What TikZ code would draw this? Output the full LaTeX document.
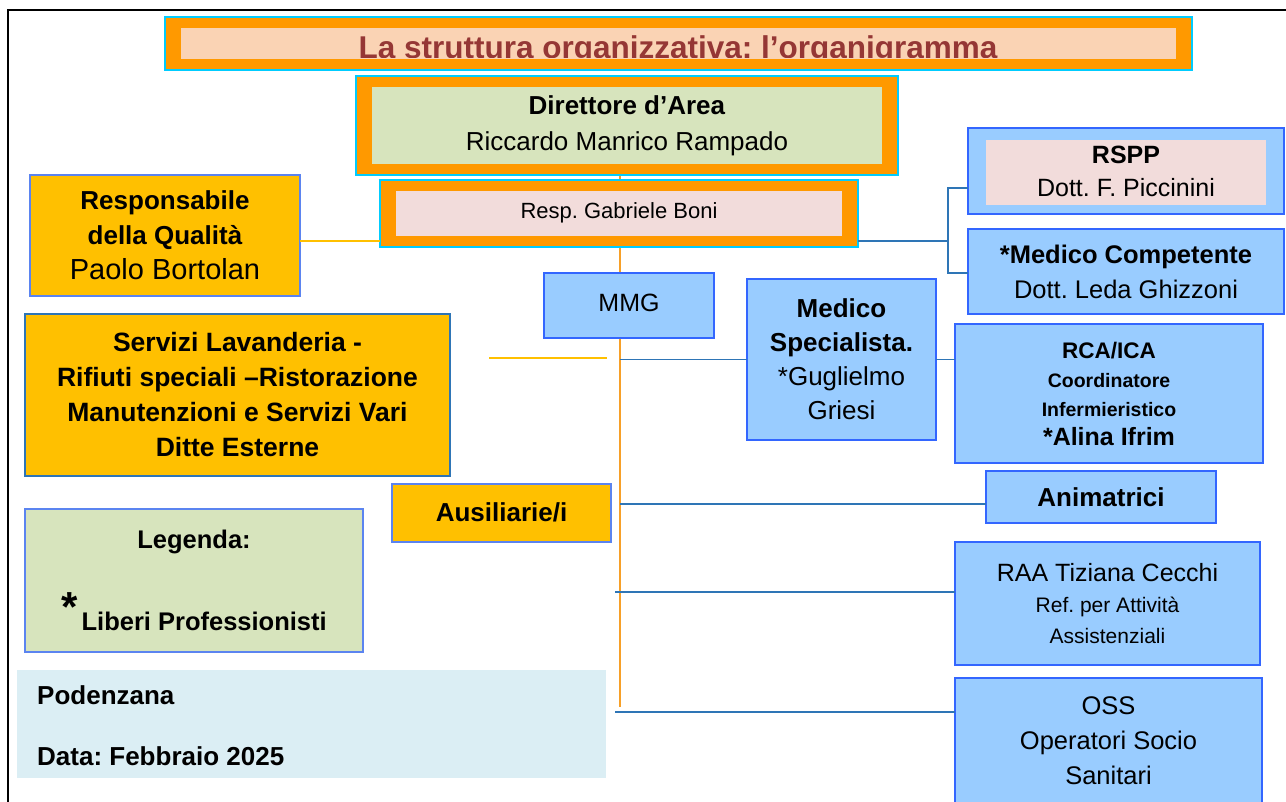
\documentclass[tikz,border=0pt]{standalone}
\usepackage{fontspec}
\setmainfont{Liberation Sans}
\usetikzlibrary{positioning, backgrounds}
\frenchspacing

\definecolor{cyanedge}{HTML}{00CCFF}
\definecolor{orangeband}{HTML}{FF9900}
\definecolor{peach}{HTML}{FAD3B4}
\definecolor{titlered}{HTML}{953735}
\definecolor{sage}{HTML}{D7E4BD}
\definecolor{blush}{HTML}{F2DCDB}
\definecolor{gold}{HTML}{FFC000}
\definecolor{skyfill}{HTML}{99CCFF}
\definecolor{boxblue}{HTML}{3366FF}
\definecolor{softblue}{HTML}{5B84F0}
\definecolor{deepblue}{HTML}{2E75B6}
\definecolor{linkblue}{HTML}{2E75B6}
\definecolor{trunkorange}{HTML}{F7A028}
\definecolor{paleblue}{HTML}{DBEEF4}

\tikzset{
    box/.style={rectangle, inner sep=0pt, outer sep=0pt, align=center,
        font=\fontsize{26}{35}\selectfont},
    framed/.style={box, draw=cyanedge, line width=2.5pt, fill=orangeband,
        path picture={\fill[#1] ([xshift=16pt,yshift=-11pt]path picture bounding box.north west)
            rectangle ([xshift=-16pt,yshift=11pt]path picture bounding box.south east);}},
    goldbox/.style={box, draw=softblue, line width=1.5pt, fill=gold},
    skybox/.style={box, draw=boxblue, line width=2.5pt, fill=skyfill},
    linkline/.style={draw=linkblue, line width=1.8pt},
    goldline/.style={draw=gold, line width=1.8pt},
    trunkline/.style={draw=trunkorange, line width=1.6pt}
}

\begin{document}
\begin{tikzpicture}[x=1pt, y=-1pt]
    \useasboundingbox (0,0) rectangle (1286,802);

    % outer frame
    \draw[black, line width=1.3pt] (1300,10) -- (8,10) -- (8,815);

    % title
    \node[framed=peach, minimum width=1027, minimum height=53] (title) at (678.5,43.5) {};
    \begin{scope}
        \clip (180,29) rectangle (1176,58);
        \node[anchor=base, text=titlered, font=\fontsize{31.5}{31}\selectfont\bfseries] (titletext) at (678,59)
            {La struttura organizzativa: l’organigramma};
    \end{scope}

    % top of the chart
    \node[framed=sage, minimum width=542, minimum height=99] (dir) at (627,125.5)
        {\raisebox{2pt}{\textbf{Direttore d’Area}}\\[1pt]\raisebox{2pt}{Riccardo Manrico Rampado}};
    \node[framed=blush, minimum width=478, minimum height=67, font=\fontsize{22}{26}\selectfont] (gab) at (619,213.5)
        {\raisebox{6pt}{Resp. Gabriele Boni}};

    % left side
    \node[goldbox, minimum width=270, minimum height=121] (qual) at (165,235.5)
        {\textbf{Responsabile}\\\textbf{della Qualità}\\{\fontsize{29}{35}\selectfont Paolo Bortolan}};
    \node[goldbox, draw=deepblue, minimum width=425, minimum height=162, font=\fontsize{26.5}{35}\selectfont\bfseries] (serv) at (237.5,395)
        {Servizi Lavanderia -\\Rifiuti speciali –Ristorazione\\Manutenzioni e Servizi Vari\\Ditte Esterne};
    \node[goldbox, minimum width=219, minimum height=58, font=\fontsize{26}{35}\selectfont\bfseries] (ausil) at (501.5,513)
        {\raisebox{2pt}{Ausiliarie/i}};
    \node[box, draw=softblue, line width=1.5pt, fill=sage, minimum width=338, minimum height=143,
        font=\fontsize{25.5}{35}\selectfont\bfseries] (legend) at (194,580.5)
        {Legenda:\\[38pt]\raisebox{9pt}{\fontsize{42}{40}\selectfont *}\kern4pt Liberi Professionisti};
    \node[box, fill=paleblue, minimum width=589, minimum height=108] (pod) at (311.5,724) {};
    \node[anchor=base west, inner sep=0pt, font=\fontsize{26}{30}\selectfont\bfseries] (podname) at (37,704) {Podenzana};
    \node[anchor=base west, inner sep=0pt, font=\fontsize{26}{30}\selectfont\bfseries] (poddate) at (37,765) {Data: Febbraio 2025};

    % middle column
    \node[skybox, minimum width=170, minimum height=65, font=\fontsize{25}{30}\selectfont] (mmg) at (629,305.5)
        {\raisebox{5pt}{MMG}};
    \node[skybox, minimum width=189, minimum height=161, font=\fontsize{26}{34}\selectfont] (medspec) at (841.5,359.5)
        {\textbf{Medico}\\\textbf{Specialista.}\\*Guglielmo\\Griesi};

    % right column
    \node[skybox, minimum width=316, minimum height=86, font=\fontsize{25}{33}\selectfont,
        path picture={\fill[blush] ([xshift=18pt,yshift=-12pt]path picture bounding box.north west)
            rectangle ([xshift=-18pt,yshift=9pt]path picture bounding box.south east);}] (rspp) at (1126,171)
        {\raisebox{-3pt}{\textbf{RSPP}}\\\raisebox{-3pt}{Dott. F. Piccinini}};
    \node[skybox, minimum width=316, minimum height=85, font=\fontsize{25.5}{35}\selectfont] (medcomp) at (1126,271.5)
        {\textbf{*Medico Competente}\\Dott. Leda Ghizzoni};
    \node[skybox, minimum width=308, minimum height=139, font=\fontsize{19.5}{29}\selectfont\bfseries] (rca) at (1109,393.5)
        {{\fontsize{22.5}{29}\selectfont RCA/ICA}\\Coordinatore\\Infermieristico\\{\fontsize{25}{31}\selectfont *Alina Ifrim}};
    \node[skybox, minimum width=230, minimum height=52, font=\fontsize{26}{30}\selectfont\bfseries] (anim) at (1101,497)
        {Animatrici};
    \node[skybox, minimum width=305, minimum height=123, font=\fontsize{21}{31}\selectfont] (raa) at (1107.5,603.5)
        {{\fontsize{25}{31}\selectfont RAA Tiziana Cecchi}\\Ref. per Attività\\Assistenziali};
    \node[skybox, minimum width=307, minimum height=126, font=\fontsize{25.5}{35}\selectfont] (oss) at (1108.5,741)
        {OSS\\Operatori Socio\\Sanitari};

    % connectors
    \coordinate (trunkend) at (620,707);
    \coordinate (brk) at (948,241);
    \coordinate (brktop) at (948,188);
    \coordinate (brkbot) at (948,273);
    \coordinate (servstub) at (489,358);
    \coordinate (stubend) at (607,358);
    \coordinate (branch) at (615,592);

    \begin{scope}[on background layer]
        \draw[trunkline] (dir.south -| trunkend) -- (trunkend);
    \end{scope}
    \draw[goldline] ([yshift=-5.5pt]qual.east) -- ([yshift=-5.5pt]qual.east -| gab.west);
    \draw[goldline] (servstub) -- (stubend);
    \draw[linkline] (gab.east |- brk) -- (brk);
    \draw[linkline] (brktop -| rspp.west) -- (brktop) -- (brkbot) -- (brkbot -| medcomp.west);
    \draw[linkline] (medspec.west -| trunkend) -- (medspec.west);
    \draw[linkline] (medspec.east) -- (medspec.east -| rca.west);
    \draw[linkline] ([yshift=-7pt]anim.west -| trunkend) -- ([yshift=-7pt]anim.west);
    \draw[linkline] (branch) -- (branch -| raa.west);
    \draw[linkline] (branch |- oss.north) ++(0,34) coordinate (ossbranch) -- (ossbranch -| oss.west);

\end{tikzpicture}
\end{document}
